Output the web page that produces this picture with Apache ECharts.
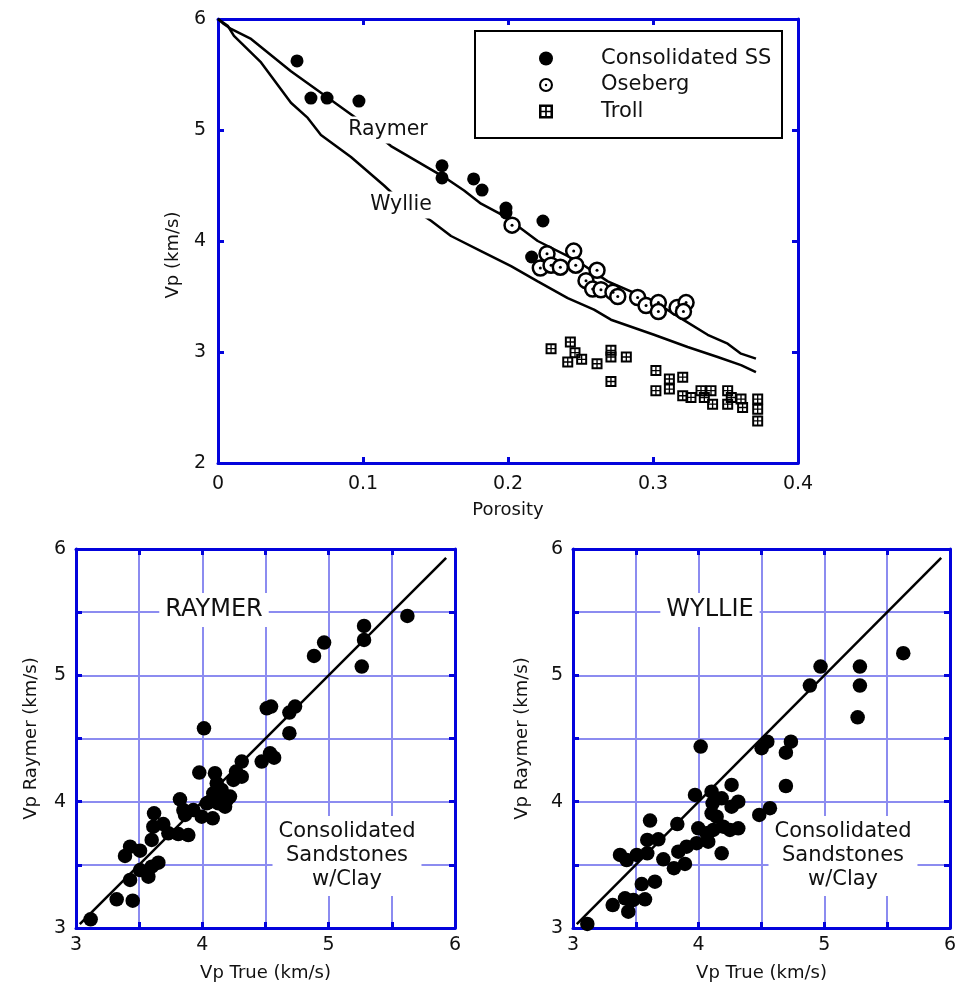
<!DOCTYPE html>
<html><head><meta charset="utf-8">
<script src="https://cdn.jsdelivr.net/npm/echarts@6/dist/echarts.min.js"></script>
<style>html,body{margin:0;padding:0;background:#fff;}#c{width:966px;height:998px;}</style>
</head><body><div id="c"></div>
<script>
// ---- Top chart: Vp vs porosity ----
const consolidatedSS = [[0.0545,5.622],[0.0641,5.288],[0.0752,5.288],[0.0972,5.261],[0.1545,4.678],[0.1545,4.568],[0.1763,4.559],[0.1821,4.459],[0.1986,4.297],[0.1986,4.252],[0.2241,4.18],[0.2163,3.856]];
const oseberg = [[0.2028,4.143],[0.2269,3.885],[0.2453,3.909],[0.2223,3.757],[0.2297,3.782],[0.2361,3.764],[0.2467,3.782],[0.2614,3.736],[0.2538,3.643],[0.2584,3.567],[0.2641,3.561],[0.2724,3.539],[0.2757,3.5],[0.2894,3.491],[0.2952,3.418],[0.3037,3.445],[0.3037,3.364],[0.3166,3.4],[0.3228,3.445],[0.321,3.364]];
const troll = [[0.2297,3.03],[0.243,3.09],[0.2462,2.994],[0.2412,2.91],[0.2508,2.934],[0.2614,2.894],[0.271,3.015],[0.271,2.955],[0.2816,2.955],[0.271,2.734],[0.302,2.833],[0.302,2.652],[0.3113,2.757],[0.3113,2.666],[0.3205,2.773],[0.3205,2.606],[0.3262,2.591],[0.3331,2.652],[0.3354,2.59],[0.34,2.652],[0.3411,2.53],[0.3515,2.652],[0.3515,2.53],[0.354,2.59],[0.3607,2.576],[0.3618,2.5],[0.3722,2.576],[0.3722,2.485],[0.3722,2.379]];
const raymerCurve = [[0,6.0],[0.004,5.955],[0.009,5.91],[0.0228,5.82],[0.0503,5.53],[0.071,5.336],[0.0952,5.109],[0.1193,4.855],[0.1559,4.576],[0.1697,4.455],[0.1814,4.336],[0.1972,4.227],[0.2205,4.0],[0.2481,3.818],[0.2688,3.636],[0.3007,3.455],[0.3193,3.303],[0.3377,3.155],[0.3515,3.075],[0.3607,2.985],[0.371,2.94]];
const wyllieCurve = [[0,6.0],[0.0067,5.939],[0.011,5.848],[0.0297,5.609],[0.0503,5.245],[0.0619,5.109],[0.071,4.955],[0.0917,4.757],[0.1145,4.5],[0.126,4.36],[0.1469,4.182],[0.1607,4.045],[0.1814,3.909],[0.2021,3.773],[0.2205,3.636],[0.2412,3.485],[0.2593,3.382],[0.271,3.291],[0.3007,3.155],[0.3239,3.045],[0.3446,2.955],[0.3607,2.882],[0.371,2.818]];
// ---- Bottom charts: predicted vs true Vp ----
const raymerVsTrue = [[3.116,3.069],[3.322,3.227],[3.449,3.216],[3.428,3.38],[3.507,3.459],[3.573,3.406],[3.599,3.485],[3.652,3.517],[3.388,3.57],[3.428,3.644],[3.507,3.612],[3.599,3.697],[3.612,3.802],[3.618,3.908],[3.691,3.823],[3.731,3.75],[3.81,3.744],[3.889,3.736],[3.823,4.019],[3.85,3.934],[3.863,3.895],[3.929,3.934],[3.995,3.881],[4.082,3.868],[3.976,4.23],[4.013,4.581],[4.1,4.225],[4.114,4.146],[4.087,4.066],[4.153,4.093],[4.193,4.013],[4.18,3.96],[4.035,3.987],[4.127,3.987],[4.219,4.04],[4.246,4.172],[4.312,4.198],[4.312,4.317],[4.267,4.238],[4.06,4.0],[4.14,4.06],[4.47,4.317],[4.51,4.739],[4.536,4.383],[4.568,4.348],[4.544,4.753],[4.689,4.705],[4.734,4.753],[4.689,4.542],[4.884,5.154],[4.964,5.259],[5.262,5.069],[5.28,5.28],[5.28,5.391],[5.623,5.47]];
const wyllieVsTrue = [[3.114,3.032],[3.316,3.182],[3.44,3.129],[3.414,3.235],[3.48,3.222],[3.573,3.227],[3.547,3.348],[3.652,3.367],[3.374,3.578],[3.427,3.538],[3.507,3.578],[3.591,3.591],[3.591,3.697],[3.679,3.702],[3.613,3.85],[3.719,3.544],[3.803,3.473],[3.891,3.507],[3.838,3.604],[3.904,3.644],[3.83,3.823],[3.997,3.789],[3.984,3.671],[4.076,3.683],[4.063,3.75],[4.116,3.776],[4.183,3.591],[3.971,4.053],[4.016,4.436],[4.103,4.079],[4.111,3.987],[4.103,3.908],[4.143,3.881],[4.183,4.027],[4.262,4.132],[4.262,3.96],[4.315,4.0],[4.315,3.789],[4.249,3.776],[4.196,3.802],[4.482,3.895],[4.567,3.948],[4.501,4.423],[4.546,4.475],[4.734,4.475],[4.694,4.388],[4.694,4.124],[4.97,5.069],[4.885,4.919],[5.283,5.069],[5.283,4.919],[5.265,4.668],[5.628,5.175]];
const oneToOne = [[3.03,3.03],[5.93,5.93]];
const topXRange = [0, 0.4, 0.1];
const topYRange = [2, 6, 1];
const bottomRange = [3, 6, 0.5];

const FONT = '"DejaVu Sans", sans-serif';
const AX = '#0303dc';
const GRIDC = '#8c8cf0';
const TXT = '#111';
const TROLL_PATH = 'path://M0,0H10V10H0ZM1.8,1.8V4.4H4.4V1.8ZM5.6,1.8V4.4H8.2V1.8ZM1.8,5.6V8.2H4.4V5.6ZM5.6,5.6V8.2H8.2V5.6Z';
const OSE_PATH = 'path://M10,0A10,10,0,1,1,10,20A10,10,0,1,1,10,0ZM10,3A7,7,0,1,0,10,17A7,7,0,1,0,10,3ZM10,8.3A1.7,1.7,0,1,1,10,11.7A1.7,1.7,0,1,1,10,8.3Z';

function isInt(v){return Math.abs(v-Math.round(v))<1e-9;}

function mainAxis(gi, range, extra){
  return Object.assign({
    gridIndex: gi, type:'value', min: range[0], max: range[1], interval: range[2],
    axisLine:{show:true,onZero:false,lineStyle:{color:AX,width:3}},
    axisTick:{show:true,inside:true,length:6,lineStyle:{color:AX,width:3}},
    axisLabel:{color:TXT,fontSize:19,fontFamily:FONT},
    splitLine:{show:false},
    nameLocation:'middle',
    nameTextStyle:{color:TXT,fontSize:18,fontFamily:FONT}
  }, extra||{});
}
function mirrorAxis(gi, range, pos){
  return {
    gridIndex: gi, type:'value', min: range[0], max: range[1], interval: range[2], position: pos,
    axisLine:{show:true,onZero:false,lineStyle:{color:AX,width:3}},
    axisTick:{show:true,inside:true,length:6,lineStyle:{color:AX,width:3}},
    axisLabel:{show:false}, splitLine:{show:false}
  };
}
const gridSplit = {show:true,lineStyle:{color:GRIDC,width:2}};
const bLabel = {color:TXT,fontSize:19,fontFamily:FONT,formatter:v=>isInt(v)?String(Math.round(v)):''};
function label(text, x, y, size, pad, lh){
  return {type:'text', x:x, y:y, z:50, style:{text:text, fill:TXT, font:size+'px '+FONT, lineHeight:lh||undefined,
    align:'center', verticalAlign:'middle', textAlign:'center', textVerticalAlign:'middle', backgroundColor:'#fff', padding:pad}};
}

const chart = echarts.init(document.getElementById('c'));
chart.setOption({
  animation:false,
  backgroundColor:'#fff',
  grid:[
    {left:218, top:19, width:580, height:444},
    {left:76, top:549, width:379, height:379},
    {left:573, top:549, width:377, height:379}
  ],
  xAxis:[
    mainAxis(0, topXRange, {name:'Porosity', nameGap:38, axisLabel:{color:TXT,fontSize:19,fontFamily:FONT,margin:12}}),
    mirrorAxis(0, topXRange, 'top'),
    mainAxis(1, bottomRange, {name:'Vp True (km/s)', nameGap:36, splitLine:gridSplit, axisLabel:Object.assign({margin:8},bLabel)}),
    mirrorAxis(1, bottomRange, 'top'),
    mainAxis(2, bottomRange, {name:'Vp True (km/s)', nameGap:36, splitLine:gridSplit, axisLabel:Object.assign({margin:8},bLabel)}),
    mirrorAxis(2, bottomRange, 'top')
  ],
  yAxis:[
    mainAxis(0, topYRange, {name:'Vp (km/s)', nameGap:36, nameTextStyle:{color:TXT,fontSize:18,fontFamily:FONT,padding:[0,28,0,0]}, axisLabel:{color:TXT,fontSize:19,fontFamily:FONT,margin:12}}),
    mirrorAxis(0, topYRange, 'right'),
    mainAxis(1, bottomRange, {name:'Vp Raymer (km/s)', nameGap:36, splitLine:gridSplit, axisLabel:Object.assign({margin:10},bLabel)}),
    mirrorAxis(1, bottomRange, 'right'),
    mainAxis(2, bottomRange, {name:'Vp Raymer (km/s)', nameGap:42, splitLine:gridSplit, axisLabel:Object.assign({margin:10},bLabel)}),
    mirrorAxis(2, bottomRange, 'right')
  ],
  legend:{
    data:[
      {name:'Consolidated SS', icon:'circle', itemStyle:{color:'#000',borderWidth:0,opacity:1}},
      {name:'Oseberg', icon:OSE_PATH, itemStyle:{color:'#000',borderWidth:0,opacity:1}},
      {name:'Troll', icon:TROLL_PATH, itemStyle:{color:'#000',borderWidth:0,opacity:1}}
    ],
    orient:'vertical', left:534, top:43, itemWidth:14, itemHeight:14, itemGap:5.5,
    selectedMode:false,
    textStyle:{color:TXT,fontSize:21,fontFamily:FONT,padding:[0,0,0,43]}
  },
  graphic:[
    {type:'rect', shape:{x:475,y:31,width:307,height:107}, style:{fill:'#fff',stroke:'#000',lineWidth:2}, z:3},
    label('Raymer', 388, 130, 20.5, [3,4]),
    label('Wyllie', 401, 205, 20.5, [3,4]),
    label('RAYMER', 214, 610, 24, [5,6]),
    label('WYLLIE', 710, 610, 24, [5,6]),
    label('Consolidated\nSandstones\nw/Clay', 347, 856, 21, [4,6], 24),
    label('Consolidated\nSandstones\nw/Clay', 843, 856, 21, [4,6], 24)
  ],
  series:[
    {name:'Raymer', type:'line', xAxisIndex:0, yAxisIndex:0, data:raymerCurve, showSymbol:false, symbol:'none', lineStyle:{color:'#000',width:2.5}, z:2},
    {name:'Wyllie', type:'line', xAxisIndex:0, yAxisIndex:0, data:wyllieCurve, showSymbol:false, symbol:'none', lineStyle:{color:'#000',width:2.5}, z:2},
    {name:'Consolidated SS', type:'scatter', xAxisIndex:0, yAxisIndex:0, data:consolidatedSS, symbol:'circle', symbolSize:13, itemStyle:{color:'#000',opacity:1}, z:3},
    {name:'Oseberg', type:'scatter', xAxisIndex:0, yAxisIndex:0, data:oseberg, symbol:'circle', symbolSize:15, itemStyle:{color:'#fff',borderColor:'#000',borderWidth:2.5,opacity:1}, z:4},
    {name:'OsebergDot', type:'scatter', xAxisIndex:0, yAxisIndex:0, data:oseberg, symbol:'circle', symbolSize:3, itemStyle:{color:'#000',opacity:1}, z:5, silent:true},
    {name:'Troll', type:'scatter', xAxisIndex:0, yAxisIndex:0, data:troll, symbol:TROLL_PATH, symbolSize:11, itemStyle:{color:'#000',opacity:1}, z:4},
    {name:'Raymer 1:1', type:'line', xAxisIndex:2, yAxisIndex:2, data:oneToOne, symbol:'none', lineStyle:{color:'#000',width:2.5}, z:2},
    {name:'Raymer pts', type:'scatter', xAxisIndex:2, yAxisIndex:2, data:raymerVsTrue, symbol:'circle', symbolSize:14.5, itemStyle:{color:'#000',opacity:1}, z:3},
    {name:'Wyllie 1:1', type:'line', xAxisIndex:4, yAxisIndex:4, data:oneToOne, symbol:'none', lineStyle:{color:'#000',width:2.5}, z:2},
    {name:'Wyllie pts', type:'scatter', xAxisIndex:4, yAxisIndex:4, data:wyllieVsTrue, symbol:'circle', symbolSize:14.5, itemStyle:{color:'#000',opacity:1}, z:3}
  ]
});
</script></body></html>
